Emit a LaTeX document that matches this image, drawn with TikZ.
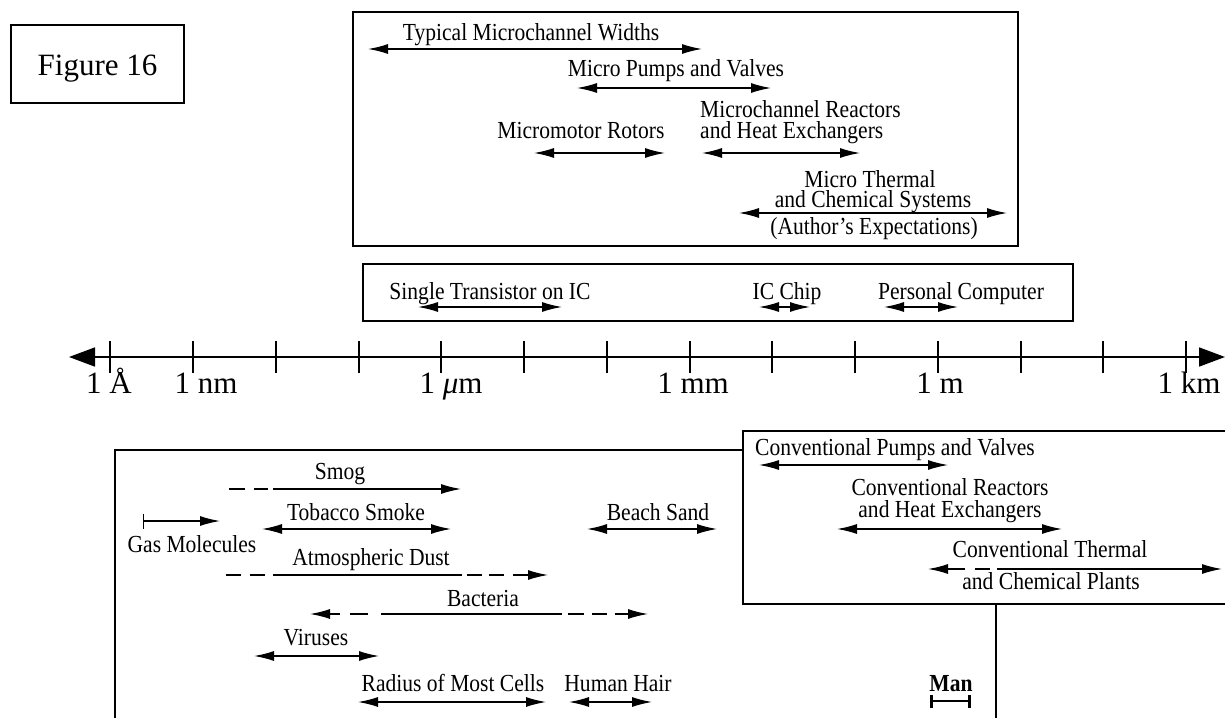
\documentclass[tikz,border=0pt]{standalone}
\usepackage{fontspec}
\setmainfont{Liberation Serif}
\newfontfamily\narrowserif{Liberation Serif}[FakeStretch=0.88]
\usetikzlibrary{arrows.meta}
\begin{document}
\begin{tikzpicture}[x=1pt,y=-1pt,
  lbl/.style={font=\narrowserif\fontsize{24.5}{26}\selectfont, inner sep=0pt, anchor=base},
  lblw/.style={font=\narrowserif\fontsize{24.5}{26}\selectfont, inner sep=0pt, anchor=base west},
  big/.style={font=\fontsize{31}{36}\selectfont, inner sep=0pt, anchor=base},
  frame/.style={draw, line width=1.6pt},
  rng/.style={line width=1.4pt, {Latex[length=20pt,width=10pt]}-{Latex[length=20pt,width=10pt]}},
  rngR/.style={line width=1.4pt, -{Latex[length=20pt,width=10pt]}},
  rngL/.style={line width=1.4pt, {Latex[length=20pt,width=10pt]}-},
  seg/.style={line width=1.4pt},
  axisline/.style={line width=1.6pt, {Triangle[length=26pt,width=19pt]}-{Triangle[length=26pt,width=19pt]}},
  tickmark/.style={line width=1.8pt}]
\useasboundingbox (0,0) rectangle (1225,717);

% Figure label
\coordinate (f1) at (10.7,25); \coordinate (f2) at (184,102.7);
\draw[frame] (f1) rectangle (f2);
\node[big] (figl) at (97.5,75) {Figure 16};

% Top box
\coordinate (tb1) at (353,12); \coordinate (tb2) at (1018,246);
\draw[frame] (tb1) rectangle (tb2);
\coordinate (tw1) at (368,49); \coordinate (tw2) at (702,49);
\draw[rng] (tw1) -- (tw2);
\node[lbl] (twl) at (531,41) {Typical Microchannel Widths};
\coordinate (mp1) at (577,88); \coordinate (mp2) at (771,88);
\draw[rng] (mp1) -- (mp2);
\node[lbl] (mpl) at (676,77) {Micro Pumps and Valves};
\coordinate (mr1) at (534,153); \coordinate (mr2) at (665,153);
\draw[rng] (mr1) -- (mr2);
\node[lbl] (mrl) at (581,138) {Micromotor Rotors};
\coordinate (mh1) at (702,153); \coordinate (mh2) at (860,153);
\draw[rng] (mh1) -- (mh2);
\node[lblw] (mhl1) at (700,117) {Microchannel Reactors};
\node[lblw] (mhl2) at (700,138) {and Heat Exchangers};
\coordinate (mt1) at (739,213); \coordinate (mt2) at (1007,213);
\draw[rng] (mt1) -- (mt2);
\node[lbl] (mtl1) at (870,187) {Micro Thermal};
\node[lbl] (mtl2) at (873,207) {and Chemical Systems};
\node[lbl] (mtl3) at (874,234) {(Author’s Expectations)};

% Middle box
\coordinate (mb1) at (363,264); \coordinate (mb2) at (1073,321);
\draw[frame] (mb1) rectangle (mb2);
\coordinate (st1) at (418,307); \coordinate (st2) at (562,307);
\draw[rng] (st1) -- (st2);
\node[lbl] (stl) at (490,299) {Single Transistor on IC};
\coordinate (ic1) at (759,307); \coordinate (ic2) at (810,307);
\draw[rng] (ic1) -- (ic2);
\node[lbl] (icl) at (787,299) {IC Chip};
\coordinate (pc1) at (884,307); \coordinate (pc2) at (958,307);
\draw[rng] (pc1) -- (pc2);
\node[lbl] (pcl) at (961,299) {Personal Computer};

% Axis
\coordinate (ax1) at (69,357); \coordinate (ax2) at (1225,357);
\draw[axisline] (ax1) -- (ax2);
\foreach \k/\xx in {0/110,1/193,2/276,3/359,4/441,5/524,6/607,7/690,8/772,9/855,10/938,11/1021,12/1103,13/1186}{
  \coordinate (tk\k a) at (\xx,341);
  \coordinate (tk\k b) at (\xx,373);
  \draw[tickmark] (tk\k a) -- (tk\k b);
}
\node[big] (l1) at (109,393) {1 Å};
\node[big] (l2) at (206,393) {1 nm};
\node[big] (l3) at (451,393) {1 \textit{μ}m};
\node[big] (l4) at (693,393) {1 mm};
\node[big] (l5) at (940,393) {1 m};
\node[big] (l6) at (1189,393) {1 km};

% Bottom boxes
\coordinate (lb1) at (115,720); \coordinate (lb2) at (115,450); \coordinate (lb3) at (743,450);
\draw[frame] (lb1) -- (lb2) -- (lb3);
\coordinate (cb1) at (1230,431); \coordinate (cb2) at (743,431);
\coordinate (cb3) at (743,604); \coordinate (cb4) at (1230,604);
\draw[frame] (cb1) -- (cb2) -- (cb3) -- (cb4);
\coordinate (vb1) at (996,604); \coordinate (vb2) at (996,720);
\draw[frame] (vb1) -- (vb2);

% Smog
\draw[seg] (229,489) -- (245,489);
\draw[seg] (254,489) -- (268,489);
\coordinate (sm1) at (273,489); \coordinate (sm2) at (461,489);
\draw[rngR] (sm1) -- (sm2);
\node[lbl] (sml) at (340,479) {Smog};

% Gas molecules
\coordinate (gm1) at (143,521); \coordinate (gm2) at (220,521);
\draw[line width=1.4pt, {Bar[width=15pt]}-{Latex[length=20pt,width=10pt]}] (gm1) -- (gm2);
\node[lbl] (gml) at (192,552) {Gas Molecules};

% Tobacco smoke
\coordinate (ts1) at (262,529); \coordinate (ts2) at (451,529);
\draw[rng] (ts1) -- (ts2);
\node[lbl] (tsl) at (356,520) {Tobacco Smoke};

% Beach sand
\coordinate (bs1) at (587,529); \coordinate (bs2) at (717,529);
\draw[rng] (bs1) -- (bs2);
\node[lbl] (bsl) at (658,520) {Beach Sand};

% Atmospheric dust
\draw[seg] (226,575) -- (241,575);
\draw[seg] (250,575) -- (265,575);
\draw[seg] (273,575) -- (462,575);
\draw[seg] (467,575) -- (482,575);
\draw[seg] (489,575) -- (504,575);
\coordinate (ad1) at (513,575); \coordinate (ad2) at (548,575);
\draw[rngR] (ad1) -- (ad2);
\node[lbl] (adl) at (371,565) {Atmospheric Dust};

% Bacteria
\coordinate (ba1) at (310,614); \coordinate (ba2) at (340,614);
\draw[rngL] (ba1) -- (ba2);
\draw[seg] (350,614) -- (368,614);
\draw[seg] (381,614) -- (562,614);
\draw[seg] (568,614) -- (584,614);
\draw[seg] (592,614) -- (607,614);
\coordinate (ba3) at (615,614); \coordinate (ba4) at (648,614);
\draw[rngR] (ba3) -- (ba4);
\node[lbl] (bal) at (483,606) {Bacteria};

% Viruses
\coordinate (vi1) at (254,656); \coordinate (vi2) at (379,656);
\draw[rng] (vi1) -- (vi2);
\node[lbl] (vil) at (316,645) {Viruses};

% Radius of most cells
\coordinate (rc1) at (358,702); \coordinate (rc2) at (546,702);
\draw[rng] (rc1) -- (rc2);
\node[lbl] (rcl) at (453,691) {Radius of Most Cells};

% Human hair
\coordinate (hh1) at (569,702); \coordinate (hh2) at (652,702);
\draw[rng] (hh1) -- (hh2);
\node[lbl] (hhl) at (618,691) {Human Hair};

% Conventional pumps
\coordinate (cp1) at (759,465); \coordinate (cp2) at (948,465);
\draw[rng] (cp1) -- (cp2);
\node[lbl] (cpl) at (895,455) {Conventional Pumps and Valves};

% Conventional reactors
\coordinate (cr1) at (837,529); \coordinate (cr2) at (1062,529);
\draw[rng] (cr1) -- (cr2);
\node[lbl] (crl1) at (950,495) {Conventional Reactors};
\node[lbl] (crl2) at (950,517) {and Heat Exchangers};

% Conventional thermal
\coordinate (ct1) at (928,569); \coordinate (ct2) at (965,569);
\draw[rngL] (ct1) -- (ct2);
\draw[seg] (975,569) -- (990,569);
\coordinate (ct3) at (997,569); \coordinate (ct4) at (1222,569);
\draw[rngR] (ct3) -- (ct4);
\node[lbl] (ctl1) at (1050,557) {Conventional Thermal};
\node[lbl] (ctl2) at (1051,589) {and Chemical Plants};

% Man
\coordinate (mn1) at (930,701); \coordinate (mn2) at (971,701);
\draw[line width=2.6pt, {Bar[width=13pt]}-{Bar[width=13pt]}] (mn1) -- (mn2);
\node[lbl, font=\narrowserif\fontsize{24.5}{26}\selectfont\bfseries] (mnl) at (951,691) {Man};
\end{tikzpicture}
\end{document}
